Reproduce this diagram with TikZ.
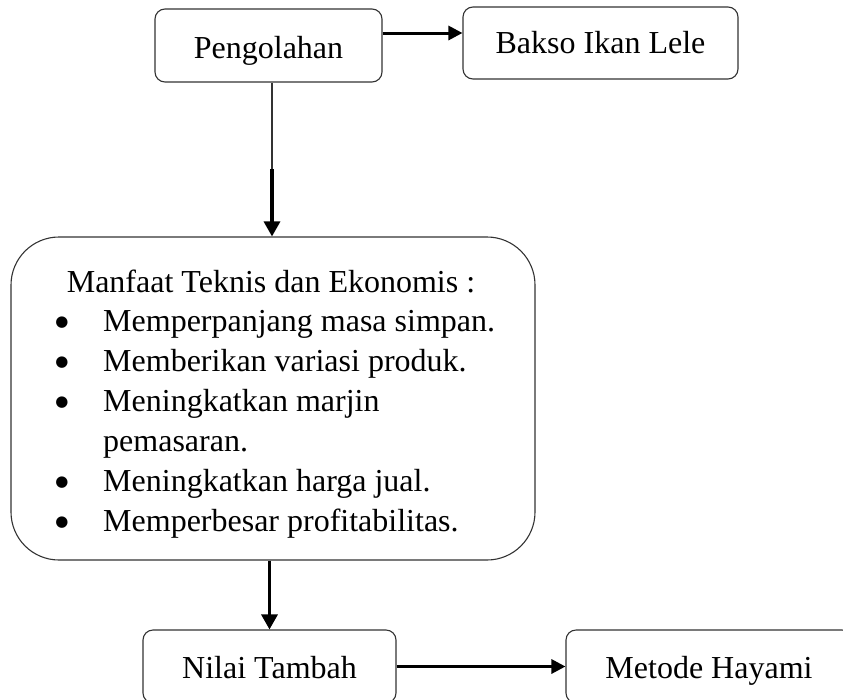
\documentclass[tikz,border=0pt]{standalone}
\usepackage{fontspec}
\setmainfont{Liberation Serif}
\newfontfamily\dotfont{DejaVu Sans}
\usetikzlibrary{arrows.meta}
\begin{document}
\begin{tikzpicture}[x=1pt,y=-1pt,
  every node/.style={font=\fontsize{32}{40}\selectfont, inner sep=0pt},
  box/.style={draw=black!80, line width=1.1pt, rounded corners=10pt},
  bigbox/.style={draw=black!80, line width=1.1pt, rounded corners=48pt},
  dot/.style={font=\dotfont\fontsize{15}{15}\selectfont},
  arr/.style={line width=3.2pt, -{Triangle[length=15pt,width=16pt]}},
  harr/.style={line width=3pt, -{Triangle[length=14pt,width=14pt]}},
  thinline/.style={draw=black!80, line width=1.2pt}]
\useasboundingbox (0,0) rectangle (843,699);
\clip (0,0) rectangle (843,699);
% boxes
\node[box, minimum width=227pt, minimum height=73pt, text height=27pt, text depth=2pt] (peng) at (268.5,45.5) {Pengolahan};
\node[box, minimum width=275pt, minimum height=72pt, text height=24pt, text depth=4pt] (bakso) at (600.5,43) {Bakso Ikan Lele};
\node[bigbox, minimum width=524pt, minimum height=323pt] (big) at (273,398.5) {};
\node[box, minimum width=253pt, minimum height=73pt, text height=26pt, text depth=3pt] (nilai) at (269.5,666.5) {Nilai Tambah};
\node[box, minimum width=286pt, minimum height=73pt, text height=26pt, text depth=3pt] (metode) at (709,666.5) {Metode Hayami};
% text in big box
\node[anchor=base] (title) at (271,292) {Manfaat Teknis dan Ekonomis :};
\node[dot] (d1) at (62,323) {●};
\node[anchor=base west] (t1) at (103,331) {Memperpanjang masa simpan.};
\node[dot] (d2) at (62,363) {●};
\node[anchor=base west] (t2) at (103,371) {Memberikan variasi produk.};
\node[dot] (d3) at (62,403) {●};
\node[anchor=base west] (t3) at (103,411) {Meningkatkan marjin};
\node[anchor=base west] (t3b) at (103,451) {pemasaran.};
\node[dot] (d4) at (62,483) {●};
\node[anchor=base west] (t4) at (103,491) {Meningkatkan harga jual.};
\node[dot] (d5) at (62,523) {●};
\node[anchor=base west] (t5) at (103,531) {Memperbesar profitabilitas.};
% connectors
\coordinate (yA) at (0,33);
\coordinate (mid) at (272,169);
\draw[harr] (peng.east |- yA) -- (bakso.west |- yA);
\draw[thinline] (peng.south -| mid) -- (mid);
\draw[arr] (mid) -- (big.north -| mid);
\draw[arr] (big.south -| nilai.north) -- (nilai.north);
\draw[harr] (nilai.east) -- (metode.west);
\end{tikzpicture}
\end{document}
